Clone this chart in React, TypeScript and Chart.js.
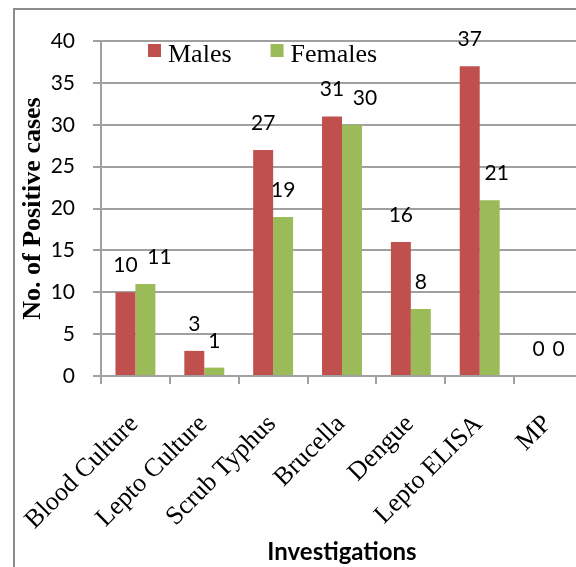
import React, { useEffect, useRef } from "react";
import { Chart, registerables } from "chart.js";

Chart.register(...registerables);

const categories = ["Blood Culture", "Lepto Culture", "Scrub Typhus", "Brucella", "Dengue", "Lepto ELISA", "MP"];
const seriesNames = ["Males", "Females"];
const males = [10, 3, 27, 31, 16, 37, 0];
const females = [11, 1, 19, 30, 8, 21, 0];
const yMin = 0;
const yMax = 40;
const yStep = 5;

const RED = "#C0504D";
const GREEN = "#9BBB59";
const GRID = "#A0A0A0";
const FRAME = "#8C8C8C";

// small label nudges (px) for female labels, as in the reference
const femaleLabelDx = [14, 0, 0, 13, 0, 7, 0];

const CANVAS_W = 600;
const CANVAS_H = 567;

export default function App() {
  const ref = useRef<HTMLCanvasElement | null>(null);

  useEffect(() => {
    const canvas = ref.current;
    if (!canvas) return;

    const framePlugin = {
      id: "frame",
      beforeDraw(chart: any) {
        const ctx = chart.ctx;
        ctx.save();
        ctx.fillStyle = "#ffffff";
        ctx.fillRect(0, 0, chart.width, chart.height);
        ctx.strokeStyle = FRAME;
        ctx.lineWidth = 2;
        ctx.beginPath();
        ctx.moveTo(14, chart.height + 10);
        ctx.lineTo(14, 9);
        ctx.lineTo(chart.width + 10, 9);
        ctx.stroke();
        ctx.restore();
      },
    };

    const labelPlugin = {
      id: "valueLabels",
      afterDatasetsDraw(chart: any) {
        const ctx = chart.ctx;
        ctx.save();
        ctx.font = "21px Lato";
        ctx.fillStyle = "#000";
        ctx.textAlign = "center";
        ctx.textBaseline = "alphabetic";
        chart.data.datasets.forEach((ds: any, di: number) => {
          const meta = chart.getDatasetMeta(di);
          meta.data.forEach((bar: any, i: number) => {
            const dx = di === 1 ? femaleLabelDx[i] : 0;
            ctx.fillText(String(ds.data[i]), bar.x + dx, bar.y - 20);
          });
        });
        ctx.restore();
      },
    };

    const legendPlugin = {
      id: "insideLegend",
      afterDraw(chart: any) {
        const ctx = chart.ctx;
        const area = chart.chartArea;
        ctx.save();
        ctx.font = "26px 'Liberation Serif'";
        ctx.textBaseline = "alphabetic";
        ctx.textAlign = "left";
        const startX = area.left + 47;
        const boxTop = area.top + 3;
        let x = startX;
        chart.data.datasets.forEach((ds: any) => {
          ctx.fillStyle = ds.backgroundColor;
          ctx.fillRect(x, boxTop, 13, 13);
          ctx.fillStyle = "#000";
          ctx.fillText(ds.label, x + 20, boxTop + 18);
          x += 20 + ctx.measureText(ds.label).width + 39;
        });
        ctx.restore();
      },
    };

    const chart = new Chart(canvas, {
      type: "bar",
      data: {
        labels: categories,
        datasets: [
          {
            label: seriesNames[0],
            data: males,
            backgroundColor: RED,
            borderWidth: 0,
            categoryPercentage: 0.58,
            barPercentage: 1,
          },
          {
            label: seriesNames[1],
            data: females,
            backgroundColor: GREEN,
            borderWidth: 0,
            categoryPercentage: 0.58,
            barPercentage: 1,
          },
        ],
      },
      options: {
        responsive: false,
        animation: false,
        devicePixelRatio: 1,
        layout: { padding: { left: 0, right: 17, top: 41, bottom: 0 } },
        plugins: {
          legend: { display: false },
          tooltip: { enabled: false },
        },
        scales: {
          x: {
            offset: true,
            grid: {
              display: true,
              drawOnChartArea: false,
              drawTicks: true,
              tickLength: 8,
              color: GRID,
              lineWidth: 2,
              offset: true,
            },
            border: { display: true, color: GRID, width: 2 },
            ticks: {
              autoSkip: false,
              maxRotation: 45,
              minRotation: 45,
              color: "#000",
              padding: 25,
              labelOffset: -1,
              font: { family: "'Liberation Serif'", size: 26, lineHeight: 1.2 },
            },
            title: {
              display: true,
              text: "Investigations",
              color: "#000",
              font: { family: "Lato", size: 24, weight: "bold", lineHeight: 1.2 },
              padding: { top: 0, bottom: 0 },
            },
            afterFit(scale: any) {
              scale.height = CANVAS_H - 376;
              scale.paddingLeft = 0;
              scale.paddingRight = 0;
            },
          },
          y: {
            min: yMin,
            max: yMax,
            grid: {
              color: GRID,
              lineWidth: 2,
              drawTicks: true,
              tickLength: 8,
            },
            border: { display: true, color: GRID, width: 2 },
            ticks: {
              stepSize: yStep,
              color: "#000",
              padding: 18,
              font: { family: "Lato", size: 21 },
            },
            title: {
              display: true,
              text: "No. of Positive cases",
              color: "#000",
              font: { family: "'Liberation Serif'", size: 26, weight: "bold", lineHeight: 1.2 },
              padding: { top: 18, bottom: 0 },
            },
            afterFit(scale: any) {
              scale.width = 101;
            },
          },
        },
      },
      plugins: [framePlugin, labelPlugin, legendPlugin],
    });

    return () => chart.destroy();
  }, []);

  return (
    <div
      style={{
        position: "fixed",
        left: 0,
        top: 0,
        width: 576,
        height: 567,
        overflow: "hidden",
        background: "#fff",
      }}
    >
      <canvas ref={ref} width={CANVAS_W} height={CANVAS_H} style={{ width: CANVAS_W, height: CANVAS_H, display: "block" }} />
    </div>
  );
}
